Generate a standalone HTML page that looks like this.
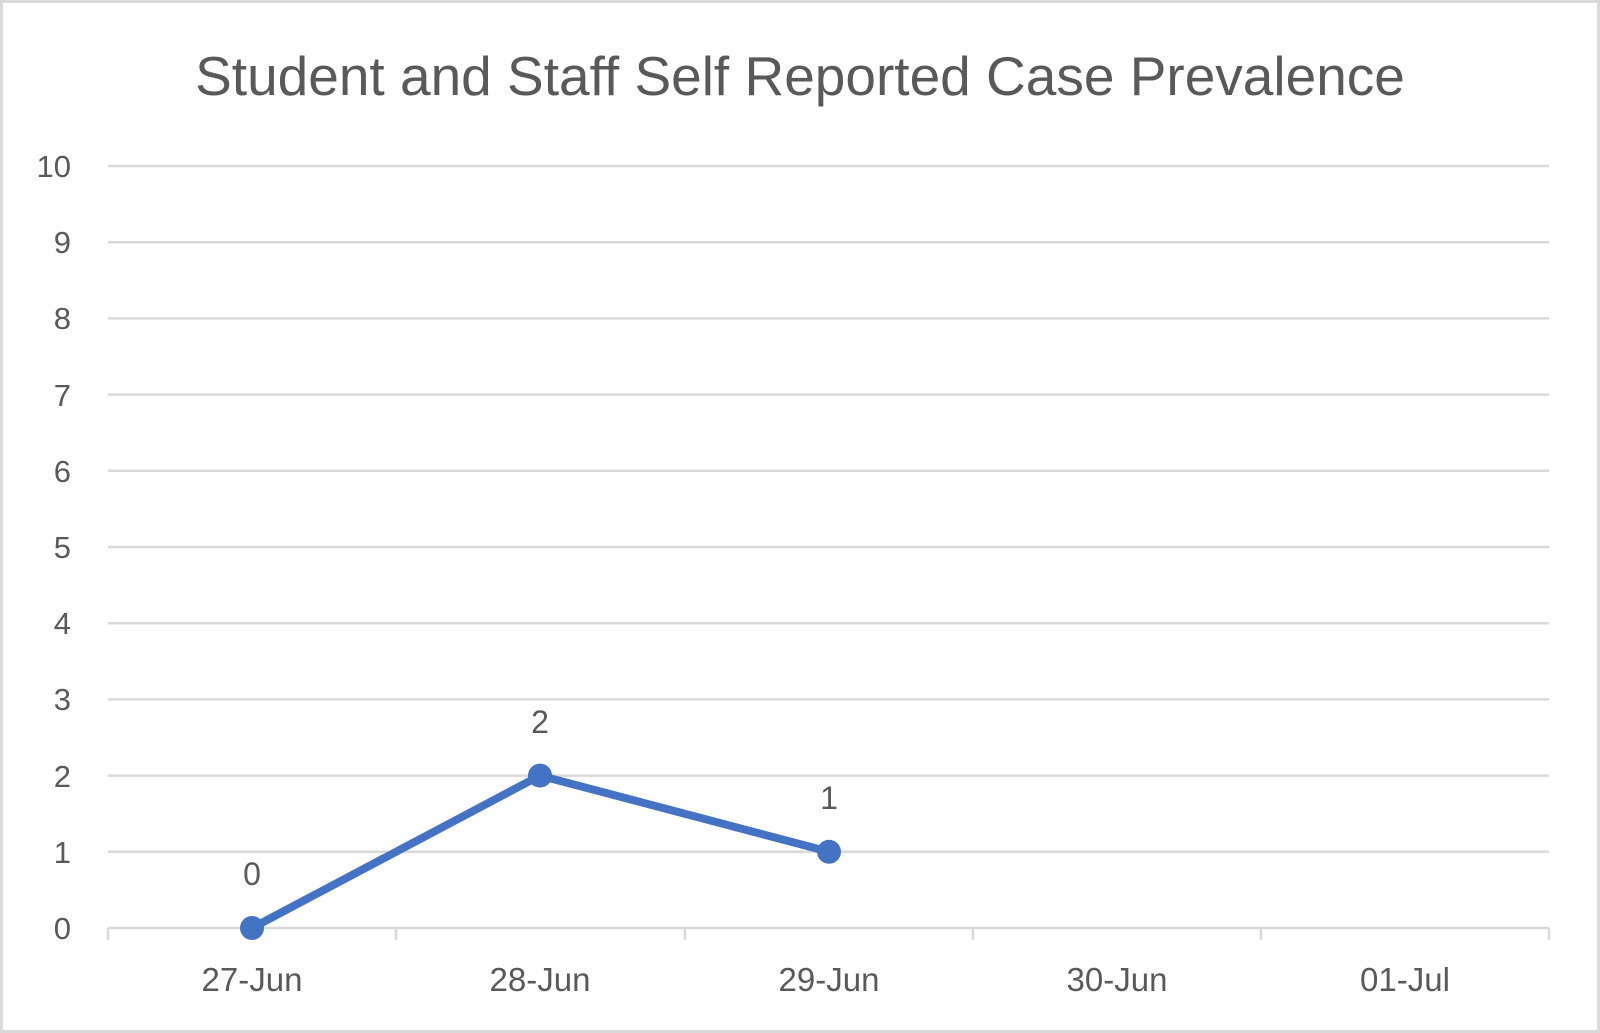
<!DOCTYPE html>
<html><head><meta charset="utf-8"><style>
html,body{margin:0;padding:0;background:#fff}
svg{display:block}
text{font-family:"Liberation Sans",sans-serif;fill:#595959}
</style></head><body>
<svg width="1600" height="1033" viewBox="0 0 1600 1033" xmlns="http://www.w3.org/2000/svg">
<rect x="1.5" y="1.5" width="1597" height="1030" fill="#fff" stroke="#d9d9d9" stroke-width="3"/>
<text x="800" y="95" text-anchor="middle" font-size="55">Student and Staff Self Reported Case Prevalence</text>
<g stroke="#d9d9d9" stroke-width="2.5">
<line x1="108" x2="1549" y1="166" y2="166"/>
<line x1="108" x2="1549" y1="242.2" y2="242.2"/>
<line x1="108" x2="1549" y1="318.4" y2="318.4"/>
<line x1="108" x2="1549" y1="394.6" y2="394.6"/>
<line x1="108" x2="1549" y1="470.8" y2="470.8"/>
<line x1="108" x2="1549" y1="547" y2="547"/>
<line x1="108" x2="1549" y1="623.2" y2="623.2"/>
<line x1="108" x2="1549" y1="699.4" y2="699.4"/>
<line x1="108" x2="1549" y1="775.6" y2="775.6"/>
<line x1="108" x2="1549" y1="851.8" y2="851.8"/>
<line x1="108" x2="1549" y1="928" y2="928"/>
<line x1="108" x2="108" y1="928" y2="940"/>
<line x1="396" x2="396" y1="928" y2="940"/>
<line x1="685" x2="685" y1="928" y2="940"/>
<line x1="973" x2="973" y1="928" y2="940"/>
<line x1="1261" x2="1261" y1="928" y2="940"/>
<line x1="1549" x2="1549" y1="928" y2="940"/>
</g>
<g font-size="31" text-anchor="end">
<text x="71" y="177">10</text>
<text x="71" y="253">9</text>
<text x="71" y="329">8</text>
<text x="71" y="406">7</text>
<text x="71" y="482">6</text>
<text x="71" y="558">5</text>
<text x="71" y="634">4</text>
<text x="71" y="710">3</text>
<text x="71" y="787">2</text>
<text x="71" y="863">1</text>
<text x="71" y="939">0</text>
</g>
<g font-size="33" text-anchor="middle">
<text x="252" y="991">27-Jun</text>
<text x="540" y="991">28-Jun</text>
<text x="829" y="991">29-Jun</text>
<text x="1117" y="991">30-Jun</text>
<text x="1405" y="991">01-Jul</text>
</g>
<polyline points="252,928 540,775.6 829,851.8" fill="none" stroke="#4472c4" stroke-width="8" stroke-linejoin="round"/>
<g fill="#4472c4">
<circle cx="252" cy="928" r="12"/>
<circle cx="540" cy="775.6" r="12"/>
<circle cx="829" cy="851.8" r="12"/>
</g>
<g font-size="32" text-anchor="middle" style="fill:#404040">
<text x="252" y="885">0</text>
<text x="540" y="733">2</text>
<text x="829" y="809">1</text>
</g>
</svg>
</body></html>
